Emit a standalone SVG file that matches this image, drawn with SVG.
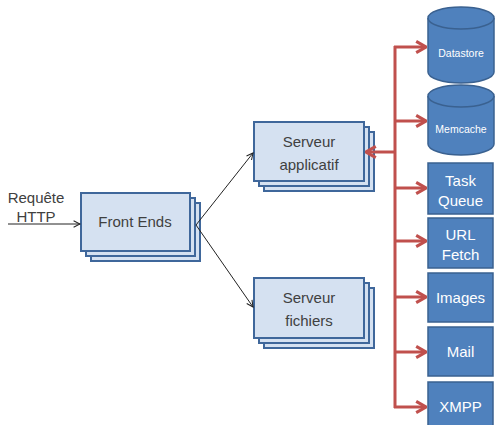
<svg xmlns="http://www.w3.org/2000/svg" width="496" height="425" viewBox="0 0 496 425">
<defs>
<style>
.lb{fill:#d5e1f1;stroke:#3f679b;stroke-width:2}
.db{fill:#4f81bd;stroke:#3a6190;stroke-width:1.5}
.lt{font-family:"Liberation Sans",Arial,sans-serif;font-size:15px;fill:#404040;text-anchor:middle}
.wt{font-family:"Liberation Sans",Arial,sans-serif;font-size:15px;fill:#ffffff;text-anchor:middle}
.ws{font-family:"Liberation Sans",Arial,sans-serif;font-size:10.5px;fill:#ffffff;text-anchor:middle}
.bk{stroke:#222;stroke-width:1;fill:none}
.rd{stroke:#c0504d;stroke-width:3;fill:none}
</style>
<marker id="ab" viewBox="0 0 10 10" refX="9" refY="5" markerWidth="8" markerHeight="8" markerUnits="userSpaceOnUse" orient="auto">
<path d="M1,1 L9,5 L1,9" fill="none" stroke="#222" stroke-width="1.3"/>
</marker>
<marker id="ar" viewBox="0 0 10 10" refX="9" refY="5" markerWidth="14" markerHeight="14" markerUnits="userSpaceOnUse" orient="auto">
<path d="M2,1 L9,5 L2,9" fill="none" stroke="#c0504d" stroke-width="2.2"/>
</marker>
</defs>
<rect width="496" height="425" fill="#ffffff"/>

<g id="requete">
<text class="lt" x="36" y="203">Requête</text>
<text class="lt" x="36" y="222">HTTP</text>
</g>

<g id="frontends">
<rect class="lb" x="91" y="203" width="109" height="58"/>
<rect class="lb" x="86" y="198" width="109" height="58"/>
<rect class="lb" x="81" y="193" width="109" height="58"/>
<text class="lt" x="135" y="227">Front Ends</text>
</g>

<g id="serveur-applicatif">
<rect class="lb" x="264" y="132" width="110" height="59"/>
<rect class="lb" x="259" y="127" width="110" height="59"/>
<rect class="lb" x="254" y="122" width="110" height="59"/>
<text class="lt" x="309" y="147">Serveur</text>
<text class="lt" x="309" y="170">applicatif</text>
</g>

<g id="serveur-fichiers">
<rect class="lb" x="264" y="288" width="110" height="60"/>
<rect class="lb" x="259" y="283" width="110" height="60"/>
<rect class="lb" x="254" y="278" width="110" height="60"/>
<text class="lt" x="309" y="303">Serveur</text>
<text class="lt" x="309" y="326">fichiers</text>
</g>

<g id="datastore">
<path class="db" d="M428,18 L428,72 A33,11 0 0 0 494,72 L494,18"/>
<ellipse class="db" cx="461" cy="18" rx="33" ry="11"/>
<text class="ws" x="461" y="57">Datastore</text>
</g>

<g id="memcache">
<path class="db" d="M428,96 L428,144 A33,11 0 0 0 494,144 L494,96"/>
<ellipse class="db" cx="461" cy="96" rx="33" ry="11"/>
<text class="ws" x="461" y="133">Memcache</text>
</g>

<g id="taskqueue">
<rect class="db" x="428" y="163" width="65" height="51"/>
<text class="wt" x="460.5" y="186">Task</text>
<text class="wt" x="460.5" y="206">Queue</text>
</g>

<g id="urlfetch">
<rect class="db" x="428" y="218" width="65" height="50"/>
<text class="wt" x="460.5" y="240">URL</text>
<text class="wt" x="460.5" y="260">Fetch</text>
</g>

<g id="images">
<rect class="db" x="428" y="273" width="65" height="49"/>
<text class="wt" x="460.5" y="303">Images</text>
</g>

<g id="mail">
<rect class="db" x="428" y="327" width="65" height="49"/>
<text class="wt" x="460.5" y="357">Mail</text>
</g>

<g id="xmpp">
<rect class="db" x="428" y="382" width="65" height="50"/>
<text class="wt" x="460.5" y="412">XMPP</text>
</g>

<g id="connectors">
<line class="bk" x1="8" y1="224" x2="80" y2="224" marker-end="url(#ab)"/>
<line class="bk" x1="196" y1="225" x2="253" y2="153" marker-end="url(#ab)"/>
<line class="bk" x1="196" y1="225" x2="253" y2="307" marker-end="url(#ab)"/>
<line class="rd" x1="395" y1="46" x2="395" y2="408"/>
<line class="rd" x1="394" y1="47" x2="426" y2="47" marker-end="url(#ar)"/>
<line class="rd" x1="394" y1="121" x2="426" y2="121" marker-end="url(#ar)"/>
<line class="rd" x1="396" y1="152" x2="366" y2="152" marker-end="url(#ar)"/>
<line class="rd" x1="394" y1="188" x2="426" y2="188" marker-end="url(#ar)"/>
<line class="rd" x1="394" y1="241" x2="426" y2="241" marker-end="url(#ar)"/>
<line class="rd" x1="394" y1="297" x2="426" y2="297" marker-end="url(#ar)"/>
<line class="rd" x1="394" y1="352" x2="426" y2="352" marker-end="url(#ar)"/>
<line class="rd" x1="394" y1="407" x2="426" y2="407" marker-end="url(#ar)"/>
</g>
</svg>
